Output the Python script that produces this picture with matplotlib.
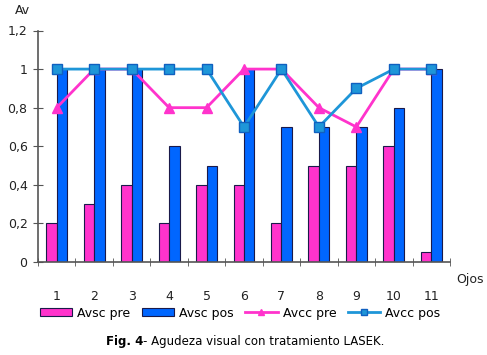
import numpy as np
import matplotlib
matplotlib.use('Agg')
import matplotlib.pyplot as plt

# datos
ojos = ['1', '2', '3', '4', '5', '6', '7', '8', '9', '10', '11']
avsc_pre = [0.2, 0.3, 0.4, 0.2, 0.4, 0.4, 0.2, 0.5, 0.5, 0.6, 0.05]
avsc_pos = [1.0, 1.0, 1.0, 0.6, 0.5, 1.0, 0.7, 0.7, 0.7, 0.8, 1.0]
avcc_pre = [0.8, 1.0, 1.0, 0.8, 0.8, 1.0, 1.0, 0.8, 0.7, 1.0, 1.0]
avcc_pos = [1.0, 1.0, 1.0, 1.0, 1.0, 0.7, 1.0, 0.7, 0.9, 1.0, 1.0]
yticks = [0, 0.2, 0.4, 0.6, 0.8, 1.0, 1.2]
ylabels = ['0', '0,2', '0,4', '0,6', '0,8', '1', '1,2']

pink = '#FF33CC'
blue = '#0066FF'
lblue = '#1E96D8'
edge = '#1A1A4A'

plt.rcParams['font.family'] = ['DejaVu Sans']
fig = plt.figure(figsize=(4.87, 3.55), dpi=100)
ax = fig.add_axes([38/487, 93/355, 412/487, 231.5/355])

x = np.arange(len(ojos))
w = 0.28
b1 = ax.bar(x - w/2, avsc_pre, w, color=pink, edgecolor=edge, linewidth=0.8, label='Avsc pre')
b2 = ax.bar(x + w/2, avsc_pos, w, color=blue, edgecolor=edge, linewidth=0.8, label='Avsc pos')
l1, = ax.plot(x, avcc_pre, color=pink, lw=2, marker='^', ms=7, label='Avcc pre')
l2, = ax.plot(x, avcc_pos, color=lblue, lw=2, marker='s', ms=7, mfc=lblue, mec='#1060C0', label='Avcc pos')

ax.set_xlim(-0.5, len(ojos) - 0.5)
ax.set_ylim(0, 1.2)
ax.set_yticks(yticks)
ax.set_yticklabels(ylabels, fontsize=9, color='#222222')
ax.set_xticks(x)
ax.set_xticklabels(ojos, fontsize=9, color='#222222')
ax.set_xticks(np.arange(len(ojos) + 1) - 0.5, minor=True)
ax.tick_params(axis='x', which='major', length=0, pad=20)
ax.tick_params(axis='x', which='minor', direction='inout', length=6, color='#555555')
ax.tick_params(axis='y', direction='inout', length=7, color='#555555', pad=4)
for s in ['top', 'right']:
    ax.spines[s].set_visible(False)
for s in ['left', 'bottom']:
    ax.spines[s].set_color('#555555')
    ax.spines[s].set_linewidth(1.2)

fig.text(22/487, 1 - 10/355, 'Av', fontsize=9, ha='center', va='center', color='#222222')
fig.text(470/487, 1 - 279/355, 'Ojos', fontsize=9, ha='center', va='center', color='#222222')

fig.legend([b1, b2, l1, l2], ['Avsc pre', 'Avsc pos', 'Avcc pre', 'Avcc pos'],
           loc='center', bbox_to_anchor=(240/487, 1 - 313/355), ncol=4, frameon=False,
           fontsize=9, handlelength=2.6, handleheight=0.6, columnspacing=0.9,
           handletextpad=0.4, markerscale=0.6)

fig.text(143/487, 1 - 341/355, 'Fig. 4', fontsize=8.5, fontweight='bold', ha='right', va='center')
fig.text(143/487, 1 - 341/355, '- Agudeza visual con tratamiento LASEK.', fontsize=8.5, ha='left', va='center')

plt.savefig('out.png', dpi=100)
